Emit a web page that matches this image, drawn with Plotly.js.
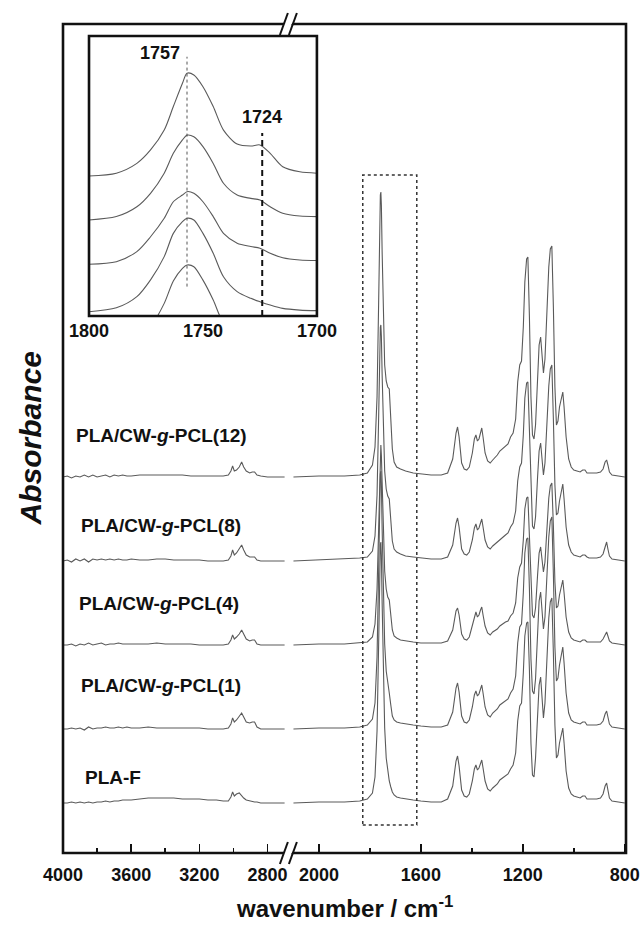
<!DOCTYPE html>
<html><head><meta charset="utf-8">
<script src="https://cdn.plot.ly/plotly-3.0.1.min.js"></script>
<style>html,body{margin:0;padding:0;background:#fff}#chart{width:642px;height:939px}</style>
</head><body><div id="chart"></div>
<script>
// ---------- DATA (absorbance, arbitrary units) ----------
const seriesNames = ['PLA/CW-<i>g</i>-PCL(12)', 'PLA/CW-<i>g</i>-PCL(8)', 'PLA/CW-<i>g</i>-PCL(4)', 'PLA/CW-<i>g</i>-PCL(1)', 'PLA-F'];
// vertical stacking offsets of the spectra
const stackOffsets = [376, 292, 208, 124, 50];

// high-wavenumber segment (cm-1)
const wnHigh = [4000, 3975, 3950, 3925, 3900, 3875, 3850, 3825, 3800, 3775,
                3750, 3725, 3700, 3675, 3650, 3625, 3600, 3550, 3500, 3450,
                3400, 3350, 3300, 3250, 3200, 3150, 3100, 3060, 3030, 3015,
                3005, 2995, 2982, 2966, 2952, 2940, 2925, 2905, 2890, 2876,
                2862, 2840, 2800, 2750, 2700];
const absHigh_PCL12 = [0, 1, -1, 1, 0, 2, 0, 2, 0, 1,
                       2, 0, 2, 1, 2, 1, 1, 2, 2, 2,
                       2, 2, 2, 1, 1, 1, 1, 1, 2, 6,
                       11, 6, 7, 10, 15, 10, 6, 4, 5, 5,
                       2, 1, 0, 0, 0];
const absHigh_PCL8 = [0, 1, -1, 2, 0, 2, -1, 2, 1, 2,
                      1, 2, 1, 2, 1, 1, 2, 1, 1, 2,
                      2, 1, 1, 1, 1, 0, 0, 0, 1, 5,
                      11, 6, 8, 12, 16, 11, 6, 4, 4, 4,
                      1, 0, 0, 0, 0];
const absHigh_PCL4 = [0, 0, 1, -1, 1, 0, 2, 0, 1, 2,
                      0, 1, 1, 2, 1, 1, 1, 1, 1, 2,
                      1, 1, 1, 1, 0, 0, 0, 0, 1, 5,
                      10, 6, 8, 11, 15, 11, 6, 4, 5, 5,
                      1, 0, 0, 0, 0];
const absHigh_PCL1 = [0, 0, 1, 0, 1, -1, 2, 0, 1, 1,
                      2, 1, 1, 2, 1, 2, 1, 1, 2, 1,
                      1, 1, 1, 1, 1, 0, 0, 0, 1, 5,
                      11, 7, 9, 13, 16, 12, 7, 6, 7, 7,
                      2, 0, 0, 0, 0];
const absHigh_PLAF = [0, 0, 1, 0, 1, 0, 1, 0, 1, 1,
                      2, 1, 2, 2, 3, 3, 3, 4, 5, 5,
                      5, 5, 4, 4, 4, 3, 3, 2, 2, 6,
                      11, 7, 9, 10, 7, 5, 3, 2, 2, 1,
                      1, 0, 0, 0, 0];

// low-wavenumber segment (cm-1)
const wnLow = [2100, 2000, 1900, 1840, 1810, 1790, 1780, 1772, 1766, 1762,
               1759, 1757, 1755, 1752, 1748, 1742, 1736, 1730, 1724, 1718,
               1712, 1705, 1695, 1680, 1660, 1630, 1600, 1560, 1520, 1495,
               1475, 1462, 1456, 1450, 1440, 1430, 1420, 1410, 1398, 1390,
               1384, 1378, 1372, 1366, 1361, 1356, 1348, 1338, 1328, 1318,
               1300, 1290, 1280, 1268, 1258, 1248, 1238, 1228, 1220, 1212,
               1205, 1198, 1192, 1185, 1180, 1174, 1168, 1162, 1156, 1150,
               1142, 1136, 1130, 1125, 1119, 1113, 1106, 1098, 1092, 1086,
               1080, 1074, 1068, 1062, 1056, 1048, 1043, 1038, 1030, 1020,
               1010, 1000, 990, 975, 965, 956, 948, 940, 925, 910,
               895, 885, 877, 871, 866, 860, 850, 830, 815, 800];
const absLow_PCL12 = [0, 1, 1, 2, 4, 12, 30, 80, 170, 250,
                      282, 285, 272, 225, 165, 112, 96, 90, 88, 62,
                      28, 15, 10, 8, 6, 4, 3, 2, 2, 4,
                      18, 44, 50, 40, 14, 8, 7, 10, 24, 38,
                      42, 36, 38, 45, 49, 40, 24, 16, 14, 17,
                      22, 26, 28, 31, 33, 40, 44, 58, 95, 112,
                      116, 150, 195, 218, 220, 160, 80, 42, 38, 52,
                      100, 132, 140, 122, 104, 118, 165, 210, 228, 231,
                      170, 90, 52, 56, 70, 82, 85, 70, 40, 18,
                      10, 7, 6, 5, 7, 7, 4, 4, 4, 4,
                      5, 8, 15, 17, 12, 5, 2, 1, 0, 0];
const absLow_PCL8 = [0, 1, 2, 3, 4, 10, 25, 66, 140, 207,
                     234, 236, 225, 186, 136, 90, 72, 65, 62, 42,
                     20, 12, 9, 7, 5, 4, 3, 2, 2, 4,
                     16, 38, 43, 34, 12, 7, 6, 9, 21, 33,
                     37, 31, 33, 39, 42, 34, 21, 14, 12, 15,
                     19, 22, 24, 26, 28, 34, 38, 50, 80, 94,
                     98, 126, 163, 178, 179, 132, 66, 35, 32, 44,
                     84, 110, 118, 102, 86, 98, 138, 175, 192, 196,
                     142, 76, 46, 48, 60, 72, 77, 62, 34, 16,
                     9, 6, 5, 4, 6, 6, 4, 3, 3, 3,
                     4, 7, 14, 19, 12, 5, 2, 1, 0, 0];
const absLow_PCL4 = [0, 1, 1, 2, 3, 8, 21, 56, 119, 175,
                     198, 200, 190, 158, 115, 74, 56, 48, 45, 30,
                     15, 9, 7, 5, 4, 3, 2, 2, 2, 4,
                     15, 34, 37, 30, 11, 6, 5, 8, 19, 29,
                     33, 28, 30, 35, 38, 30, 19, 12, 10, 13,
                     16, 19, 21, 23, 24, 29, 32, 42, 67, 78,
                     82, 105, 136, 147, 148, 110, 56, 30, 27, 37,
                     70, 92, 98, 86, 73, 83, 115, 147, 159, 162,
                     119, 63, 37, 39, 50, 60, 65, 52, 28, 13,
                     7, 5, 4, 3, 5, 5, 3, 3, 3, 3,
                     3, 6, 11, 13, 9, 4, 2, 1, 0, 0];
const absLow_PCL1 = [0, 1, 1, 2, 4, 10, 26, 72, 154, 226,
                     255, 258, 246, 200, 140, 85, 58, 44, 36, 24,
                     13, 9, 7, 6, 5, 4, 3, 2, 2, 4,
                     17, 41, 46, 37, 13, 7, 6, 9, 22, 34,
                     38, 33, 35, 41, 44, 36, 22, 14, 12, 16,
                     20, 24, 26, 28, 30, 36, 40, 53, 86, 102,
                     105, 136, 176, 190, 191, 140, 70, 38, 35, 50,
                     96, 128, 137, 120, 100, 112, 152, 192, 208, 212,
                     155, 82, 48, 51, 64, 77, 82, 66, 36, 16,
                     9, 7, 6, 5, 7, 7, 4, 4, 4, 4,
                     5, 8, 15, 18, 12, 5, 2, 1, 0, 0];
const absLow_PLAF = [0, 1, 1, 2, 4, 10, 26, 72, 155, 228,
                     258, 261, 248, 200, 135, 75, 45, 30, 22, 16,
                     11, 8, 6, 5, 4, 3, 2, 1, 1, 4,
                     17, 42, 47, 37, 13, 7, 6, 9, 22, 34,
                     38, 33, 35, 41, 43, 35, 22, 14, 12, 15,
                     19, 23, 25, 27, 29, 34, 38, 50, 82, 97,
                     100, 130, 167, 180, 181, 133, 60, 28, 26, 45,
                     88, 118, 126, 108, 85, 100, 145, 185, 201, 205,
                     150, 78, 45, 48, 60, 70, 75, 60, 32, 15,
                     9, 7, 6, 5, 7, 7, 4, 4, 4, 4,
                     5, 9, 17, 20, 13, 5, 2, 1, 0, 0];

// inset: carbonyl region (cm-1), stacked curves (arbitrary units)
const wnInset = [1800, 1788, 1779, 1773, 1767, 1763, 1759, 1757, 1754, 1750,
                 1745.5, 1741, 1735, 1729, 1725, 1720.5, 1715, 1707.5, 1700];
const inset_PCL12 = [5.00, 5.10, 5.45, 5.93, 6.64, 7.48, 8.31, 8.67, 8.61, 8.19,
                     7.48, 6.64, 6.14, 6.07, 6.11, 5.81, 5.33, 5.15, 5.10];
const inset_PCL8 = [3.43, 3.55, 3.90, 4.38, 5.10, 5.81, 6.29, 6.46, 6.40, 6.05,
                    5.45, 4.74, 4.32, 4.20, 4.14, 3.90, 3.67, 3.57, 3.55];
const inset_PCL4 = [1.85, 1.94, 2.30, 2.83, 3.49, 4.08, 4.32, 4.44, 4.38, 4.08,
                    3.55, 2.95, 2.60, 2.48, 2.42, 2.24, 2.08, 2.00, 1.98];
const inset_PCL1 = [0.15, 0.29, 0.69, 1.29, 2.12, 2.95, 3.37, 3.49, 3.43, 2.95,
                    2.24, 1.40, 0.87, 0.63, 0.51, 0.39, 0.27, 0.21, 0.19];
const inset_PLAF = [-1.55, -1.42, -1.00, -0.40, 0.45, 1.25, 1.70, 1.82, 1.76, 1.28,
                    0.57, -0.27, -0.80, -1.05, -1.20, -1.30, -1.38, -1.44, -1.46];
const insetMarks = [1757, 1724];

const xTickHigh = [4000, 3600, 3200, 2800];
const xTickLow = [2000, 1600, 1200, 800];
const xTickInset = [1800, 1750, 1700];

// ---------- BUILD ----------
const highSets = [absHigh_PCL12, absHigh_PCL8, absHigh_PCL4, absHigh_PCL1, absHigh_PLAF];
const lowSets = [absLow_PCL12, absLow_PCL8, absLow_PCL4, absLow_PCL1, absLow_PLAF];
const insetSets = [inset_PCL12, inset_PCL8, inset_PCL4, inset_PCL1, inset_PLAF];

const FONT = '"Liberation Sans", Arial, Helvetica, sans-serif';
const LINE = '#5a5a5a';
const traces = [];
seriesNames.forEach((nm, i) => {
  traces.push({type: 'scatter', mode: 'lines', xaxis: 'x', yaxis: 'y', name: nm,
    x: wnHigh, y: highSets[i].map(v => v + stackOffsets[i]),
    line: {color: LINE, width: 1.1}, hoverinfo: 'skip'});
  traces.push({type: 'scatter', mode: 'lines', xaxis: 'x2', yaxis: 'y', name: nm,
    x: wnLow, y: lowSets[i].map(v => v + stackOffsets[i]),
    line: {color: LINE, width: 1.1}, hoverinfo: 'skip'});
  traces.push({type: 'scatter', mode: 'lines', xaxis: 'x3', yaxis: 'y3', name: nm,
    x: wnInset, y: insetSets[i],
    line: {color: LINE, width: 1.1, shape: 'spline', smoothing: 0.8}, hoverinfo: 'skip'});
});

const tickFont = {family: FONT, size: 18, weight: 'bold', color: '#111'};
const baseX = {
  showgrid: false, zeroline: false, showline: false,
  ticks: 'inside', ticklen: 9, tickwidth: 1.6, tickcolor: '#111',
  tickfont: tickFont, ticklabelstandoff: 9, anchor: 'y'
};
const BRK = 0.403;

const labelPos = [[3935, 418], [3906, 328], [3918, 250], [3906, 168], [3883, 76]];
const annotations = seriesNames.map((nm, i) => ({
  xref: 'x', yref: 'y', x: labelPos[i][0], y: labelPos[i][1], xanchor: 'left', yanchor: 'middle',
  text: '<b>' + nm + '</b>', showarrow: false, font: {family: FONT, size: 19, color: '#111'}
}));
annotations.push({xref: 'paper', yref: 'paper', x: 0.5, y: -0.065, xanchor: 'center', yanchor: 'middle',
  text: '<b>wavenumber / cm<sup>-1</sup></b>', showarrow: false, font: {family: FONT, size: 24, color: '#111'}});
annotations.push({xref: 'paper', yref: 'paper', x: -0.0586, y: 0.5, xanchor: 'center', yanchor: 'middle',
  textangle: -90, text: '<b><i>Absorbance</i></b>', showarrow: false, font: {family: FONT, size: 30, color: '#111'}});
annotations.push({xref: 'x3', yref: 'y3', x: 1759, y: 9.39, xanchor: 'right', yanchor: 'middle',
  text: '<b>' + insetMarks[0] + '</b>', showarrow: false, font: {family: FONT, size: 18, color: '#111'}});
annotations.push({xref: 'x3', yref: 'y3', x: insetMarks[1], y: 7.1, xanchor: 'center', yanchor: 'middle',
  text: '<b>' + insetMarks[1] + '</b>', showarrow: false, font: {family: FONT, size: 18, color: '#111'}});

function slashes(yAnchor) {
  const common = {type: 'line', xref: 'paper', yref: 'paper', xsizemode: 'pixel', ysizemode: 'pixel',
                  xanchor: BRK, yanchor: yAnchor, layer: 'above'};
  return [
    Object.assign({}, common, {x0: -6, y0: -8, x1: 2, y1: 8, line: {color: '#ffffff', width: 7}}),
    Object.assign({}, common, {x0: -10, y0: -11, x1: -2, y1: 11, line: {color: '#111', width: 2}}),
    Object.assign({}, common, {x0: -1, y0: -11, x1: 7, y1: 11, line: {color: '#111', width: 2}})
  ];
}

const shapes = [
  {type: 'rect', xref: 'paper', yref: 'paper', x0: 0, x1: 1, y0: 0, y1: 1, line: {color: '#111', width: 2.6}, layer: 'above'},
  ...slashes(0), ...slashes(1),
  {type: 'rect', xref: 'x3 domain', yref: 'y3 domain', x0: 0, x1: 1, y0: 0, y1: 1, line: {color: '#111', width: 2.6}, layer: 'above'},
  {type: 'rect', xref: 'x2', yref: 'y', x0: 1828, x1: 1616, y0: 28, y1: 678, line: {color: '#333', width: 1.5, dash: 'dot'}},
  {type: 'line', xref: 'x3', yref: 'y3', x0: insetMarks[0], x1: insetMarks[0], y0: 1.05, y1: 9.26, line: {color: '#555', width: 1, dash: 'dot'}},
  {type: 'line', xref: 'x3', yref: 'y3', x0: insetMarks[1], x1: insetMarks[1], y0: 0, y1: 6.54, line: {color: '#111', width: 2, dash: '6px,4px'}}
];

const layout = {
  width: 642, height: 939,
  margin: {l: 63, r: 16, t: 24, b: 86},
  paper_bgcolor: '#ffffff', plot_bgcolor: '#ffffff',
  showlegend: false,
  xaxis: Object.assign({}, baseX, {domain: [0, BRK], range: [4000, 2669], tickvals: xTickHigh,
    minor: {dtick: 200, tick0: 0, ticks: 'inside', ticklen: 5, tickwidth: 1.6, tickcolor: '#111', showgrid: false}}),
  xaxis2: Object.assign({}, baseX, {domain: [BRK, 1], range: [2114, 795], tickvals: xTickLow,
    minor: {dtick: 200, tick0: 0, ticks: 'inside', ticklen: 5, tickwidth: 1.6, tickcolor: '#111', showgrid: false}}),
  yaxis: {domain: [0, 1], range: [0, 829], showticklabels: false, ticks: '', showgrid: false, zeroline: false, showline: false},
  xaxis3: {domain: [0.0462, 0.451], anchor: 'y3', range: [1800, 1700], tickvals: xTickInset,
    ticks: '', showgrid: false, zeroline: false, showline: false, tickfont: tickFont, ticklabelstandoff: 2},
  yaxis3: {domain: [0.6478, 0.9855], anchor: 'x3', range: [0, 10], visible: false},
  annotations: annotations,
  shapes: shapes
};

Plotly.newPlot('chart', traces, layout, {staticPlot: true, displayModeBar: false});
</script></body></html>
